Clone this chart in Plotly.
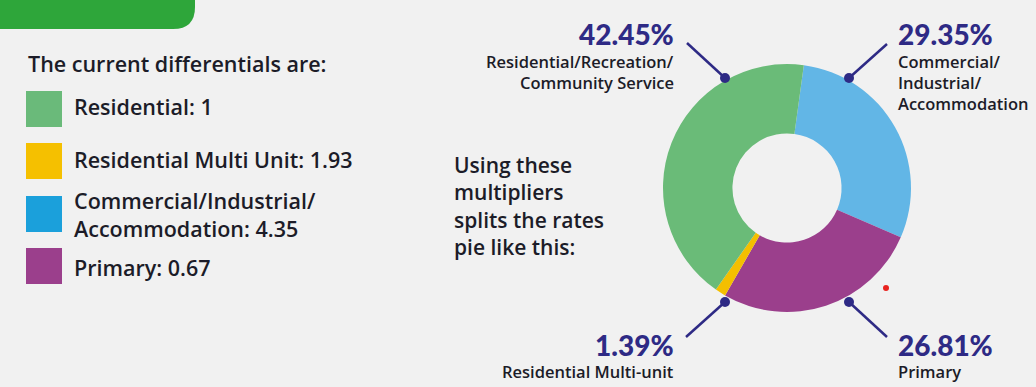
import plotly.graph_objects as go

W, H = 1036, 387

# ---- data ----
categories = ["Commercial/Industrial/Accommodation", "Primary", "Residential Multi-unit",
              "Residential/Recreation/Community Service"]
shares = [29.35, 26.81, 1.39, 42.45]
slice_colors = ["#62b6e6", "#9b3f8c", "#f4bf00", "#6abb78"]

legend_labels = ["Residential: 1", "Residential Multi Unit: 1.93",
                 "Commercial/Industrial/<br>Accommodation: 4.35", "Primary: 0.67"]
legend_colors = ["#6aba7a", "#f5c000", "#1ba0db", "#9b3f8c"]

label_lines = {
    "Residential/Recreation/Community Service": ["Residential/Recreation/", "Community Service"],
    "Commercial/Industrial/Accommodation": ["Commercial/", "Industrial/", "Accommodation"],
    "Residential Multi-unit": ["Residential Multi-unit"],
    "Primary": ["Primary"],
}

intro_text = "Using these<br>multipliers<br>splits the rates<br>pie like this:"

FONT = "Open Sans"
PFONT = "Lato"
DARK = "#1c1c28"
NAVY = "#2e2a85"
BG = "#f1f1f1"


def px(x):
    return x / W


def py(y):
    return 1 - y / H


fig = go.Figure()
fig.add_trace(go.Pie(
    labels=categories, values=shares, sort=False, direction="clockwise",
    rotation=7.8, hole=0.44,
    marker=dict(colors=slice_colors, line=dict(width=0)),
    textinfo="none", hoverinfo="label+percent", showlegend=False,
    domain=dict(x=[px(663), px(911)], y=[py(312), py(64)]),
))

shapes = []
annotations = []

# top-left green tab
shapes.append(dict(type="path", xref="paper", yref="paper",
                   path=f"M {px(0)} {py(-5)} L {px(195)} {py(-5)} L {px(195)} {py(7)} "
                        f"Q {px(195)} {py(29)} {px(173)} {py(29)} L {px(0)} {py(29)} Z",
                   fillcolor="#2ea63a", line=dict(width=0), layer="above"))

def text(x, y, s, size, xanchor="left", color=DARK, weight="normal", family=FONT):
    annotations.append(dict(x=px(x), y=py(y), xref="paper", yref="paper", text=s,
                            showarrow=False, xanchor=xanchor, yanchor="middle", align=xanchor,
                            font=dict(family=family, size=size, color=color, weight=weight)))

text(26, 63, "The current differentials are:", 21.5, weight=600)

sq_tops = [91, 143, 196, 248]
label_y = [107, 159, 214.5, 267]
for top, col, lab, yy in zip(sq_tops, legend_colors, legend_labels, label_y):
    shapes.append(dict(type="rect", xref="paper", yref="paper", x0=px(26), x1=px(62),
                       y0=py(top), y1=py(top + 36), fillcolor=col, line=dict(width=0)))
    text(72, yy, lab, 21.5, weight=600)

text(452, 206, intro_text, 21, weight=600)

# callouts: (category, anchor x, pct y, first label y, side, line start, dot)
callouts = [
    ("Residential/Recreation/Community Service", 676, 34, 62, "right", (687, 43), (725, 78)),
    ("Commercial/Industrial/Accommodation", 896, 34, 62, "left", (887, 44), (849, 78)),
    ("Residential Multi-unit", 676, 345, 371, "right", (686, 337), (725, 302)),
    ("Primary", 896, 345, 371, "left", (887, 337), (849, 302)),
]
for cat, ax, pyy, ly, side, (x0, y0), (dx, dy) in callouts:
    val = shares[categories.index(cat)]
    text(ax, pyy, f"{val:.2f}%", 28, xanchor=side, color=NAVY, weight=900, family=PFONT)
    for j, ln in enumerate(label_lines[cat]):
        text(ax, ly + j * 20.5, ln, 16.5, xanchor=side, weight=600)
    shapes.append(dict(type="line", xref="paper", yref="paper", x0=px(x0), y0=py(y0),
                       x1=px(dx), y1=py(dy), line=dict(color=NAVY, width=2.5)))
    shapes.append(dict(type="circle", xref="paper", yref="paper", x0=px(dx - 5), x1=px(dx + 5),
                       y0=py(dy + 5), y1=py(dy - 5), fillcolor=NAVY, line=dict(width=0)))

# small red dot
shapes.append(dict(type="circle", xref="paper", yref="paper", x0=px(883), x1=px(889),
                   y0=py(291), y1=py(285), fillcolor="#e8231f", line=dict(width=0)))

fig.update_layout(width=W, height=H, margin=dict(l=0, r=0, t=0, b=0),
                  paper_bgcolor=BG, plot_bgcolor=BG, shapes=shapes, annotations=annotations)
fig.write_html("out.html", config={"displayModeBar": False},
               post_script="document.body.style.margin='0';document.body.style.overflow='hidden';")
